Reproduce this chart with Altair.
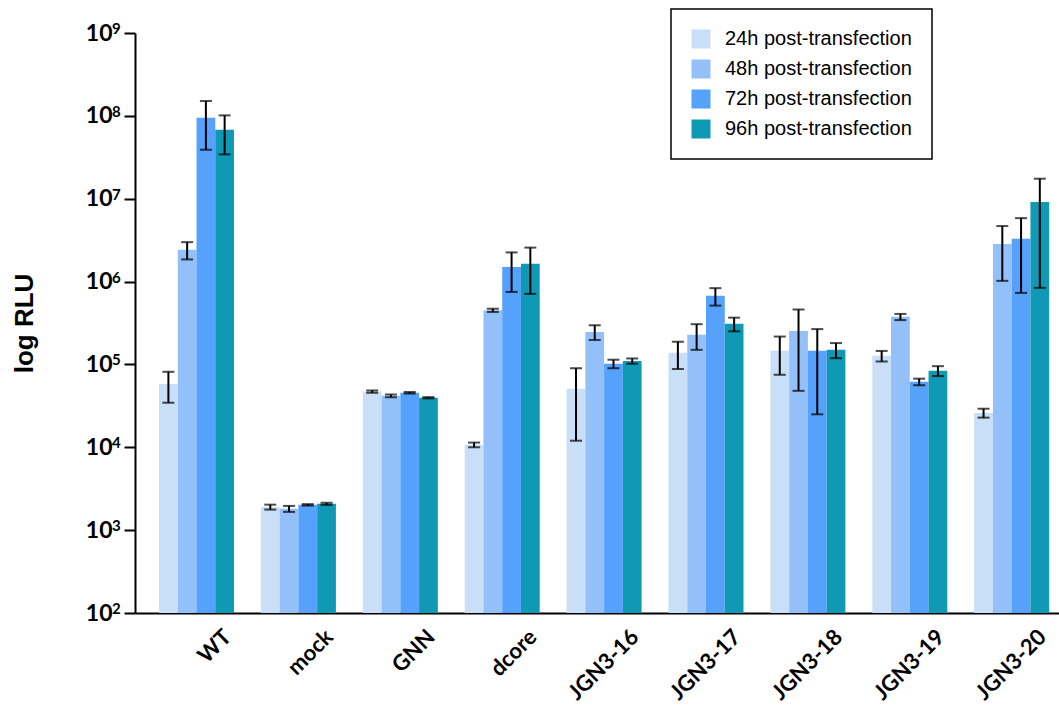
import altair as alt
import pandas as pd

# Groups along the x axis and the four time points
groups = ["WT", "mock", "GNN", "dcore", "JGN3-16", "JGN3-17", "JGN3-18", "JGN3-19", "JGN3-20"]
series = [
    "24h post-transfection",
    "48h post-transfection",
    "72h post-transfection",
    "96h post-transfection",
]
colors = ["#C9DEF7", "#93C0F9", "#55A1FC", "#1099B4"]

# Decade exponents shown on the y axis (10^2 .. 10^9)
decades = [2, 3, 4, 5, 6, 7, 8, 9]

# Mean RLU and standard deviation per group, one list per time point
mean_24h = [5.8e4, 1.9e3, 4.7e4, 1.07e4, 5.1e4, 1.38e5, 1.46e5, 1.27e5, 2.6e4]
sd_24h = [2.35e4, 1.3e2, 1.5e3, 7e2, 3.9e4, 5.0e4, 7.1e4, 1.85e4, 3.2e3]
mean_48h = [2.42e6, 1.81e3, 4.18e4, 4.5e5, 2.47e5, 2.28e5, 2.54e5, 3.75e5, 2.85e6]
sd_48h = [5.7e5, 1.5e2, 1.5e3, 2.0e4, 5.0e4, 7.8e4, 2.06e5, 3.2e4, 1.83e6]
mean_72h = [9.5e7, 2.02e3, 4.55e4, 1.5e6, 1.02e5, 6.73e5, 1.46e5, 6.17e4, 3.28e6]
sd_72h = [5.6e7, 4e1, 1.0e3, 7.5e5, 1.2e4, 1.6e5, 1.21e5, 5.6e3, 2.55e6]
mean_96h = [6.78e7, 2.08e3, 3.96e4, 1.64e6, 1.10e5, 3.09e5, 1.50e5, 8.38e4, 9.14e6]
sd_96h = [3.35e7, 6e1, 7e2, 9.3e5, 8e3, 5.8e4, 3.1e4, 1.15e4, 8.3e6]

means = [mean_24h, mean_48h, mean_72h, mean_96h]
sds = [sd_24h, sd_48h, sd_72h, sd_96h]

rows = []
for s, ms, ds in zip(series, means, sds):
    for g, m, d in zip(groups, ms, ds):
        rows.append({"group": g, "series": s, "mean": m, "lo": m - d, "hi": m + d})
df = pd.DataFrame(rows)

df_exp = pd.DataFrame({"value": [10.0 ** e for e in decades], "exp": [str(e) for e in decades]})

y_axis = alt.Axis(
    title="log RLU",
    values=[10.0 ** e for e in decades],
    labelExpr="'10'",
    grid=False,
    domainColor="black",
    domainWidth=2,
    tickColor="black",
    tickWidth=2,
    tickSize=11,
    labelFont="Lato",
    labelFontWeight="bold",
    labelFontSize=23,
    labelColor="black",
    labelPadding=12,
    titleFont="Liberation Sans",
    titleFontWeight="bold",
    titleFontSize=26,
    titleColor="black",
    titleX=-111,
    titleY=290,
    titleAngle=270,
    titleAlign="center",
    titleBaseline="middle",
)
y_scale = alt.Scale(type="log", domain=[1e2, 1e9], nice=False)

x_enc = alt.X(
    "group:N",
    sort=groups,
    scale=alt.Scale(paddingInner=0.264, paddingOuter=0.166, align=0.71),
    axis=alt.Axis(
        title=None,
        labelAngle=-45,
        labelAlign="right",
        labelBaseline="middle",
        labelOffset=31,
        labelPadding=20,
        ticks=False,
        domainColor="black",
        domainWidth=2,
        labelFont="Lato",
        labelFontWeight="bold",
        labelFontSize=22,
        labelColor="black",
    ),
)
xo_enc = alt.XOffset("series:N", sort=series, scale=alt.Scale(paddingInner=0, paddingOuter=0))

base = alt.Chart(df)

bars = base.mark_bar().encode(
    x=x_enc,
    xOffset=xo_enc,
    y=alt.Y("mean:Q", scale=y_scale, axis=y_axis),
    y2=alt.datum(100),
    color=alt.Color(
        "series:N",
        sort=series,
        scale=alt.Scale(domain=series, range=colors),
        legend=alt.Legend(
            title=None,
            orient="none",
            legendX=536,
            legendY=-24,
            strokeColor="black",
            fillColor="white",
            padding=20,
            symbolType="square",
            symbolSize=361,
            symbolStrokeWidth=0,
            symbolOpacity=1,
            labelFont="Liberation Sans",
            labelFontSize=20,
            labelColor="black",
            labelOffset=14,
            labelLimit=400,
            rowPadding=10,
        ),
    ),
)

whiskers = base.mark_rule(color="black", strokeWidth=2).encode(
    x=x_enc,
    xOffset=xo_enc,
    y=alt.Y("lo:Q", scale=y_scale, axis=y_axis),
    y2="hi:Q",
)

caps_lo = base.mark_tick(color="black", thickness=2, size=12).encode(
    x=x_enc,
    xOffset=xo_enc,
    y=alt.Y("lo:Q", scale=y_scale, axis=y_axis),
)
caps_hi = base.mark_tick(color="black", thickness=2, size=12).encode(
    x=x_enc,
    xOffset=xo_enc,
    y=alt.Y("hi:Q", scale=y_scale, axis=y_axis),
)

# Superscript exponents next to the "10" tick labels
exponents = alt.Chart(df_exp).mark_text(
    font="Lato",
    fontWeight="bold",
    fontSize=15,
    color="black",
    align="left",
    baseline="alphabetic",
    dy=1,
).encode(
    x=alt.value(-23),
    y=alt.Y("value:Q", scale=y_scale, axis=y_axis),
    text="exp:N",
)

chart = (
    alt.layer(bars, whiskers, caps_lo, caps_hi, exponents)
    .properties(
        width=924,
        height=580,
        autosize="none",
        padding={"left": 135, "top": 33, "right": 0, "bottom": 95},
    )
    .configure_view(stroke=None)
    .configure_legend(strokeWidth=1.5)
)

chart.save("out.html", embed_options={"renderer": "svg", "actions": False})
